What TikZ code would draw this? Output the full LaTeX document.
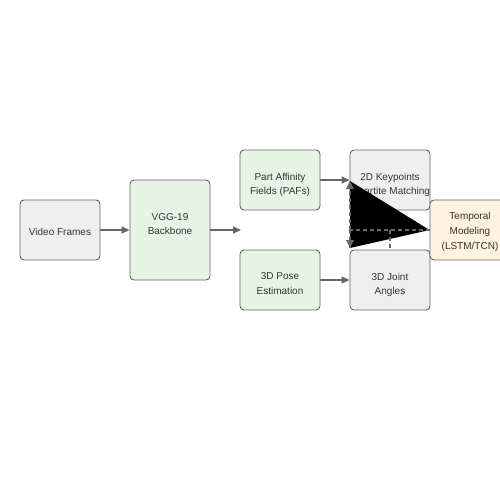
\documentclass[tikz,border=0pt]{standalone}
\usepackage{fontspec}
\setmainfont{Liberation Sans}
\usetikzlibrary{arrows.meta}
\definecolor{bordc}{HTML}{666666}
\definecolor{txtc}{HTML}{333333}
\definecolor{grayf}{HTML}{EFEFEF}
\definecolor{greenf}{HTML}{E6F4E6}
\definecolor{orangef}{HTML}{FFF2DE}
\tikzset{
  box/.style={draw=bordc, line width=0.9pt, rounded corners=4pt, minimum width=80pt,
    minimum height=60pt, inner sep=0pt},
  graybox/.style={box, fill=grayf},
  greenbox/.style={box, fill=greenf},
  orangebox/.style={box, fill=orangef},
  txt/.style={anchor=north, inner sep=0pt, align=center, text=txtc,
    font=\fontsize{10}{14.7}\selectfont},
  conn/.style={draw=bordc, line width=1.4pt, -{Triangle[length=8pt,width=7pt]}},
  dconn/.style={draw=bordc, line width=1.1pt, dashed, dash pattern=on 4pt off 3pt},
}
\begin{document}
\begin{tikzpicture}[x=1pt,y=-1pt]
\useasboundingbox (0,0) rectangle (500,500);
\clip (0,0) rectangle (500,500);
\fill[white] (0,0) rectangle (500,500);
% boxes
\node[graybox] (video) at (60,230) {};
\node[greenbox, minimum height=100pt] (vgg) at (170,230) {};
\node[greenbox] (paf) at (280,180) {};
\node[greenbox] (pose) at (280,280) {};
\node[graybox] (kp) at (390,180) {};
\node[graybox] (joint) at (390,280) {};
\node[orangebox] (temp) at (470,230) {};
% texts (north = first baseline - 7.2)
\node[txt] (videoT) at (60,227.8) {Video Frames};
\node[txt, font=\fontsize{10}{14}\selectfont] (vggT) at (170,213.8) {VGG-19\\Backbone};
\node[txt] (pafT) at (280,172.8) {Part Affinity\\Fields (PAFs)};
\node[txt] (poseT) at (280,272.8) {3D Pose\\Estimation};
\node[txt] (kpT) at (390,172.8) {2D Keypoints\\Bipartite Matching};
\node[txt] (jointT) at (390,272.8) {3D Joint\\Angles};
\node[txt] (tempT) at (470,212.5) {Temporal\\Modeling\\(LSTM/TCN)};
% connectors
\coordinate (vggend) at (241,230);
\coordinate (ta) at (350,181);
\coordinate (tb) at (350,248);
\coordinate (tc) at (390,230);
\coordinate (td) at (350,230);
\draw[conn] (video.east) -- (vgg.west);
\draw[conn] (vgg.east) -- (vggend);
\draw[conn] (paf.east) -- (kp.west |- paf.east);
\draw[conn] (pose.east) -- (joint.west);
\fill[black] (ta) -- (temp.west) -- (tb) -- cycle;
\draw[dconn] (temp.west) -- (td);
\draw[dconn] (td) -- (ta);
\draw[dconn] (td) -- (tb);
\draw[dconn] (tc) -- (joint.north);
\fill[bordc] (ta) ++(-4,8) -- (ta) -- ++(4,8) -- cycle;
\fill[bordc] (tb) ++(-4,-8) -- (tb) -- ++(4,-8) -- cycle;
\end{tikzpicture}
\end{document}
